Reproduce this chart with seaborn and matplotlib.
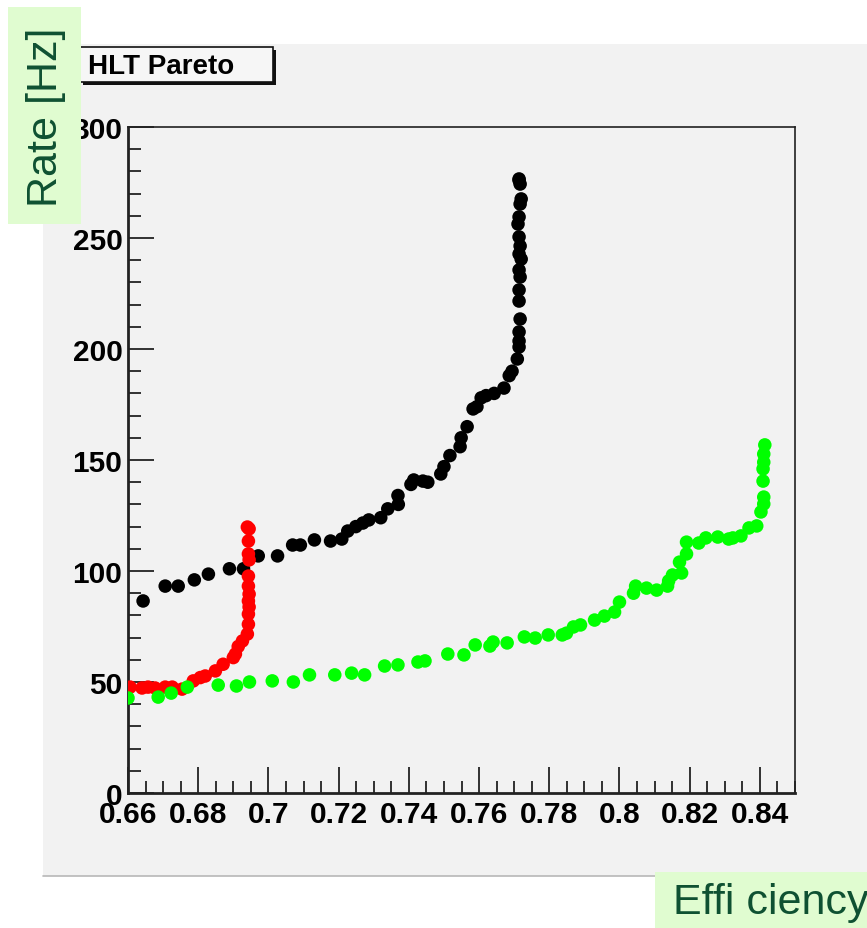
import matplotlib
matplotlib.use("Agg")
import matplotlib.pyplot as plt
from matplotlib.patches import Rectangle
from matplotlib.lines import Line2D
from matplotlib.ticker import MultipleLocator, FixedLocator
import seaborn as sns
import pandas as pd

# ---------------- data ----------------
black_x = [0.6643, 0.6706, 0.6743, 0.6789, 0.6829, 0.6889, 0.6929, 0.6971, 0.7026, 0.7069,
           0.7091, 0.7131, 0.7177, 0.7209, 0.7226, 0.7249, 0.7269, 0.7286, 0.7320, 0.7340,
           0.7369, 0.7370, 0.7406, 0.7414, 0.7440, 0.7454, 0.7491, 0.7500, 0.7517, 0.7546,
           0.7549, 0.7566, 0.7583, 0.7594, 0.7606, 0.7620, 0.7643, 0.7671, 0.7686, 0.7694,
           0.7709, 0.7714, 0.7714, 0.7714, 0.7717, 0.7714, 0.7714, 0.7717, 0.7714, 0.7720,
           0.7714, 0.7717, 0.7714, 0.7711, 0.7714, 0.7717, 0.7720, 0.7717, 0.7714, 0.7714]
black_y = [86.5, 93.2, 93.2, 96.0, 98.6, 101.0, 101.0, 106.8, 106.8, 111.7,
           111.7, 114.0, 113.5, 114.4, 118.0, 120.0, 121.6, 123.0, 124.0, 128.0,
           134.0, 130.0, 139.0, 141.0, 140.5, 140.0, 143.7, 147.0, 152.0, 156.0,
           160.0, 165.0, 173.0, 174.0, 178.0, 179.0, 180.0, 182.4, 188.0, 190.0,
           195.5, 200.9, 203.6, 207.7, 213.5, 221.6, 226.6, 232.4, 235.6, 240.5,
           242.8, 246.4, 250.5, 256.3, 259.5, 265.3, 267.6, 274.3, 276.6, 276.0]

red_x = [0.6606, 0.6640, 0.6657, 0.6677, 0.6706, 0.6726, 0.6754, 0.6786, 0.6806, 0.6820,
         0.6849, 0.6871, 0.6900, 0.6906, 0.6914, 0.6926, 0.6940, 0.6943, 0.6943, 0.6945,
         0.6943, 0.6945, 0.6943, 0.6943, 0.6945, 0.6943, 0.6943, 0.6945, 0.6940]
red_y = [47.7, 47.3, 47.7, 47.3, 47.7, 47.7, 46.8, 50.5, 52.0, 52.7,
         55.0, 58.0, 61.0, 62.6, 66.0, 68.5, 71.6, 76.0, 80.6, 83.8,
         86.5, 89.6, 93.2, 97.7, 105.0, 107.7, 113.5, 119.0, 119.8]

green_x = [0.6600, 0.6686, 0.6723, 0.6769, 0.6857, 0.6909, 0.6946, 0.7011, 0.7071, 0.7117,
           0.7189, 0.7237, 0.7274, 0.7331, 0.7369, 0.7426, 0.7446, 0.7511, 0.7557, 0.7589,
           0.7631, 0.7640, 0.7680, 0.7729, 0.7760, 0.7797, 0.7837, 0.7849, 0.7869, 0.7889,
           0.7929, 0.7957, 0.7986, 0.8000, 0.8040, 0.8046, 0.8077, 0.8106, 0.8137, 0.8140,
           0.8151, 0.8177, 0.8171, 0.8191, 0.8191, 0.8226, 0.8246, 0.8280, 0.8311, 0.8323,
           0.8346, 0.8369, 0.8391, 0.8403, 0.8411, 0.8411, 0.8409, 0.8409, 0.8411, 0.8411,
           0.8414]
green_y = [42.8, 43.2, 45.0, 47.7, 48.6, 48.2, 50.0, 50.5, 50.0, 53.2,
           53.2, 54.0, 53.2, 57.2, 57.7, 59.0, 59.5, 62.6, 62.2, 66.7,
           66.2, 68.0, 67.6, 70.3, 69.8, 71.2, 71.2, 72.0, 74.8, 75.7,
           77.9, 79.7, 81.5, 86.0, 90.0, 93.2, 92.3, 91.4, 93.2, 95.5,
           98.2, 99.1, 104.0, 107.7, 113.0, 112.6, 114.9, 115.3, 114.4, 114.9,
           115.8, 119.4, 120.3, 126.6, 130.2, 133.3, 140.5, 146.0, 149.0, 152.7,
           156.8]

series_names = ["black", "red", "green"]
series_colors = ["#000000", "#ff0000", "#00ff00"]

x_ticks = [0.66, 0.68, 0.70, 0.72, 0.74, 0.76, 0.78, 0.80, 0.82, 0.84]
x_tick_labels = ["0.66", "0.68", "0.7", "0.72", "0.74", "0.76", "0.78", "0.8", "0.82", "0.84"]
y_ticks = [0, 50, 100, 150, 200, 250, 300]
y_tick_labels = ["0", "50", "100", "150", "200", "250", "300"]

title_text = "HLT Pareto"
x_label = "Effi ciency"
y_label = "Rate [Hz]"

df = pd.concat([
    pd.DataFrame({"eff": black_x, "rate": black_y, "series": "black"}),
    pd.DataFrame({"eff": red_x, "rate": red_y, "series": "red"}),
    pd.DataFrame({"eff": green_x, "rate": green_y, "series": "green"}),
], ignore_index=True)

# ---------------- figure ----------------
sns.set_theme(style="ticks")
plt.rcParams["font.family"] = ["Liberation Sans", "DejaVu Sans"]

W, H = 867, 929
fig = plt.figure(figsize=(W / 100, H / 100), dpi=100)
fig.patch.set_facecolor("white")

def fx(px):
    return px / W

def fy(py):
    return 1 - py / H

pad_col = "#f2f2f2"
# pad background
fig.patches.append(Rectangle((fx(43), fy(877)), 1 - fx(43), fy(45) - fy(877),
                             transform=fig.transFigure, facecolor=pad_col,
                             edgecolor="none", zorder=-10))
fig.lines.append(Line2D([fx(43), 1], [fy(877), fy(877)], transform=fig.transFigure,
                        color="#b8b8b8", lw=1.2, zorder=-9))

ax_l, ax_r, ax_t, ax_b = 128, 795, 128, 794
ax = fig.add_axes([fx(ax_l), fy(ax_b), fx(ax_r) - fx(ax_l), fy(ax_t) - fy(ax_b)])
ax.set_facecolor(pad_col)

sns.scatterplot(data=df, x="eff", y="rate", hue="series", hue_order=series_names,
                palette=dict(zip(series_names, series_colors)), s=95, linewidth=0,
                edgecolor="none", legend=False, ax=ax, zorder=3)

ax.set_xlim(0.66, 0.85)
ax.set_ylim(0, 300)
ax.xaxis.set_major_locator(FixedLocator(x_ticks))
ax.set_xticklabels(x_tick_labels)
ax.yaxis.set_major_locator(FixedLocator(y_ticks))
ax.set_yticklabels(y_tick_labels)
ax.xaxis.set_minor_locator(MultipleLocator(0.005))
ax.yaxis.set_minor_locator(MultipleLocator(10))
ax.set_xlabel("")
ax.set_ylabel("")

ax.tick_params(axis="both", which="major", direction="in", length=19, width=1.3,
               color="#222222", labelsize=21.5, top=False, right=False)
ax.tick_params(axis="both", which="minor", direction="in", length=9, width=1.3,
               color="#222222", top=False, right=False)
ax.tick_params(axis="x", which="major", pad=5)
ax.tick_params(axis="y", which="major", pad=4)
for lab in ax.get_xticklabels() + ax.get_yticklabels():
    lab.set_fontweight("bold")
    lab.set_color("black")

for side in ["left", "bottom"]:
    ax.spines[side].set_linewidth(2.0)
    ax.spines[side].set_color("#222222")
for side in ["top", "right"]:
    ax.spines[side].set_linewidth(1.2)
    ax.spines[side].set_color("#222222")
    ax.spines[side].set_visible(True)

# title box with shadow
tb_l, tb_t, tb_r, tb_b = 80, 48, 273, 83
fig.patches.append(Rectangle((fx(tb_l + 3), fy(tb_b + 3)), fx(tb_r) - fx(tb_l), fy(tb_t) - fy(tb_b),
                             transform=fig.transFigure, facecolor="#111111",
                             edgecolor="none", zorder=5))
fig.patches.append(Rectangle((fx(tb_l), fy(tb_b)), fx(tb_r) - fx(tb_l), fy(tb_t) - fy(tb_b),
                             transform=fig.transFigure, facecolor="#f6f6f6",
                             edgecolor="#111111", lw=1.2, zorder=6))
fig.text(fx(88), fy((tb_t + tb_b) / 2 + 1), title_text, fontsize=20, fontweight="bold",
         ha="left", va="center", color="black", zorder=7)

# axis title boxes
box_fill = "#e0fcd0"
txt_col = "#0f5132"
fig.patches.append(Rectangle((fx(8), fy(225)), fx(81) - fx(8), fy(8) - fy(225),
                             transform=fig.transFigure, facecolor=box_fill,
                             edgecolor="none", zorder=8))
fig.text(fx(46), fy(117), y_label, rotation=90, fontsize=31, ha="center", va="center",
         color=txt_col, zorder=9)

fig.patches.append(Rectangle((fx(655), 0), 1 - fx(655), fy(873),
                             transform=fig.transFigure, facecolor=box_fill,
                             edgecolor="none", zorder=8))
fig.text(fx(673), fy(903), x_label, fontsize=31, ha="left", va="center",
         color=txt_col, zorder=9)

fig.savefig("out.png", dpi=100, facecolor="white")
